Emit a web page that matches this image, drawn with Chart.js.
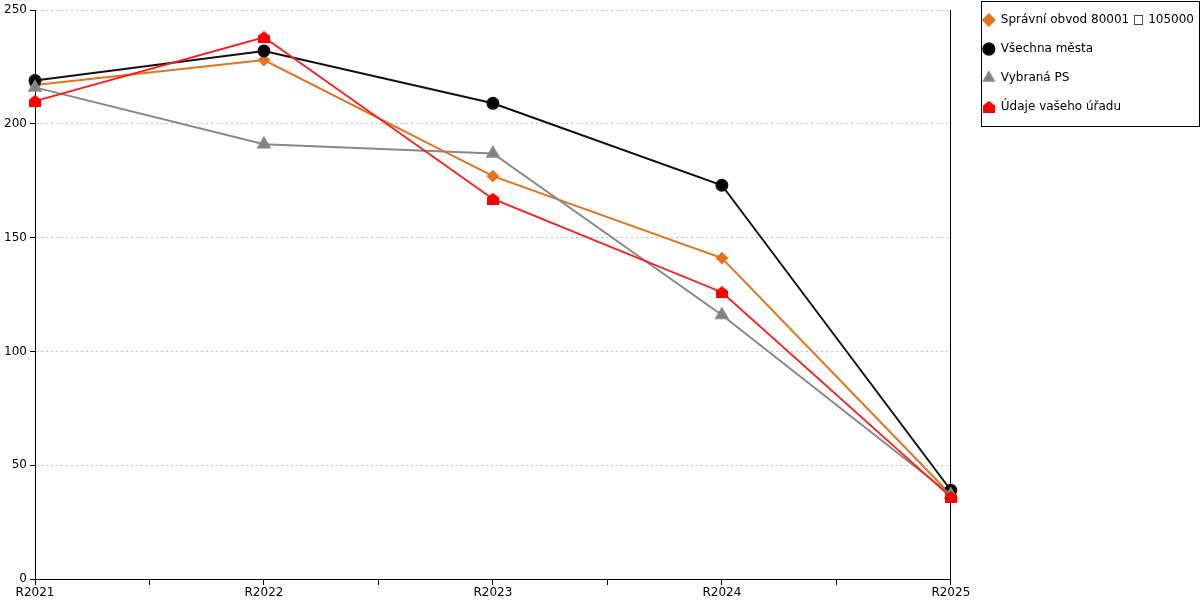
<!DOCTYPE html>
<html>
<head>
<meta charset="utf-8">
<script src="https://cdn.jsdelivr.net/npm/chart.js@4"></script>
<style>
html,body{margin:0;padding:0;background:#fff;}
#wrap{width:1200px;height:600px;}
</style>
</head>
<body>
<div id="wrap"><canvas id="c" width="1200" height="600"></canvas></div>
<script>
const categories = ['R2021', 'R2022', 'R2023', 'R2024', 'R2025'];
const seriesNames = ['Správní obvod 80001 \u25A1 105000', 'Všechna města', 'Vybraná PS', 'Údaje vašeho úřadu'];
const spravniObvod = [217, 228, 177, 141, 37];
const vsechnaMesta = [219, 232, 209, 173, 39];
const vybranaPS = [216, 191, 187, 116, 37];
const udajeUradu = [210, 238, 167, 126, 36];
const yTicks = [0, 50, 100, 150, 200, 250];

function toPoints(arr) { return arr.map((v, i) => ({x: i, y: v})); }

// house-shaped marker
const house = document.createElement('canvas');
house.width = 12; house.height = 12;
(function(){
  const g = house.getContext('2d');
  g.fillStyle = '#ff0000';
  g.beginPath();
  g.moveTo(6, 0); g.lineTo(12, 4.5); g.lineTo(12, 12); g.lineTo(0, 12); g.lineTo(0, 4.5);
  g.closePath(); g.fill();
})();

const legendBorder = {
  id: 'legendBorder',
  afterDraw(chart) {
    const l = chart.legend;
    if (!l || !l.legendHitBoxes || !l.legendHitBoxes.length) return;
    const hb = l.legendHitBoxes;
    const first = hb[0], last = hb[hb.length - 1];
    const ctx = chart.ctx;
    const x1 = Math.round(first.left - 2) + 0.5;
    const x2 = Math.round(chart.width) - 0.5;
    const y1 = Math.round(first.top - 13) + 0.5;
    const y2 = Math.round(last.top + last.height + 13) + 0.5;
    ctx.save();
    ctx.strokeStyle = '#000';
    ctx.lineWidth = 1;
    ctx.strokeRect(x1, y1, x2 - x1, y2 - y1);
    ctx.restore();
  }
};

const font = {family: 'DejaVu Sans', size: 12};

new Chart(document.getElementById('c'), {
  type: 'line',
  data: {
    datasets: [
      {label: seriesNames[0], data: toPoints(spravniObvod), borderColor: '#E5731C', backgroundColor: '#E5731C',
       borderWidth: 2, pointStyle: 'rectRot', pointRadius: 5, pointHoverRadius: 5, order: 3, clip: false},
      {label: seriesNames[1], data: toPoints(vsechnaMesta), borderColor: '#111111', backgroundColor: '#000000',
       borderWidth: 2, pointStyle: 'circle', pointRadius: 5.5, pointHoverRadius: 5.5, order: 2, clip: false},
      {label: seriesNames[2], data: toPoints(vybranaPS), borderColor: '#888888', backgroundColor: '#808080',
       borderWidth: 2, pointStyle: 'triangle', pointRadius: 6.5, pointHoverRadius: 6.5, order: 1, clip: false},
      {label: seriesNames[3], data: toPoints(udajeUradu), borderColor: '#FF1A1A', backgroundColor: '#FF0000',
       borderWidth: 1.8, pointStyle: house, pointRadius: 6, pointHoverRadius: 6, order: 0, clip: false}
    ]
  },
  options: {
    responsive: false,
    animation: false,
    devicePixelRatio: 1,
    layout: {padding: {top: -3, right: -4, left: 0, bottom: 0}},
    elements: {line: {tension: 0}, point: {borderWidth: 0}},
    plugins: {
      tooltip: {enabled: false},
      legend: {
        position: 'right',
        align: 'start',
        maxWidth: 400,
        labels: {
          usePointStyle: true,
          boxWidth: 12,
          boxHeight: 8,
          padding: 17,
          color: '#000',
          font: font,
          sort: (a, b) => a.datasetIndex - b.datasetIndex
        }
      }
    },
    scales: {
      x: {
        type: 'linear',
        min: 0,
        max: categories.length - 1,
        afterBuildTicks(s) {
          const t = [];
          for (let i = 0; i <= (categories.length - 1) * 2; i++) t.push({value: i / 2});
          s.ticks = t;
        },
        afterFit(s) { s.height = 21; s.paddingLeft = 0; s.paddingRight = 0; },
        ticks: {
          autoSkip: false, maxRotation: 0, padding: 1, color: '#000', font: font,
          callback: (v) => Number.isInteger(v) ? categories[v] : ''
        },
        grid: {drawOnChartArea: false, color: '#000', tickColor: '#000', tickLength: 6},
        border: {color: '#000', width: 1}
      },
      y: {
        type: 'linear',
        min: yTicks[0],
        max: yTicks[yTicks.length - 1],
        afterBuildTicks(s) { s.ticks = yTicks.map(v => ({value: v})); },
        afterFit(s) { s.width = 35; s.paddingTop = 10; s.paddingBottom = 0; },
        ticks: {padding: 3, color: '#000', font: font},
        grid: {color: '#c4c4c4', tickColor: '#000', tickLength: 5},
        border: {color: '#000', width: 1, dash: [2, 3]}
      },
      y2: {
        type: 'linear',
        position: 'right',
        display: true,
        afterFit(s) { s.width = 15; s.paddingTop = 0; s.paddingBottom = 0; },
        ticks: {display: false},
        grid: {display: false},
        border: {color: '#000', width: 1}
      }
    }
  },
  plugins: [legendBorder]
});
</script>
</body>
</html>
